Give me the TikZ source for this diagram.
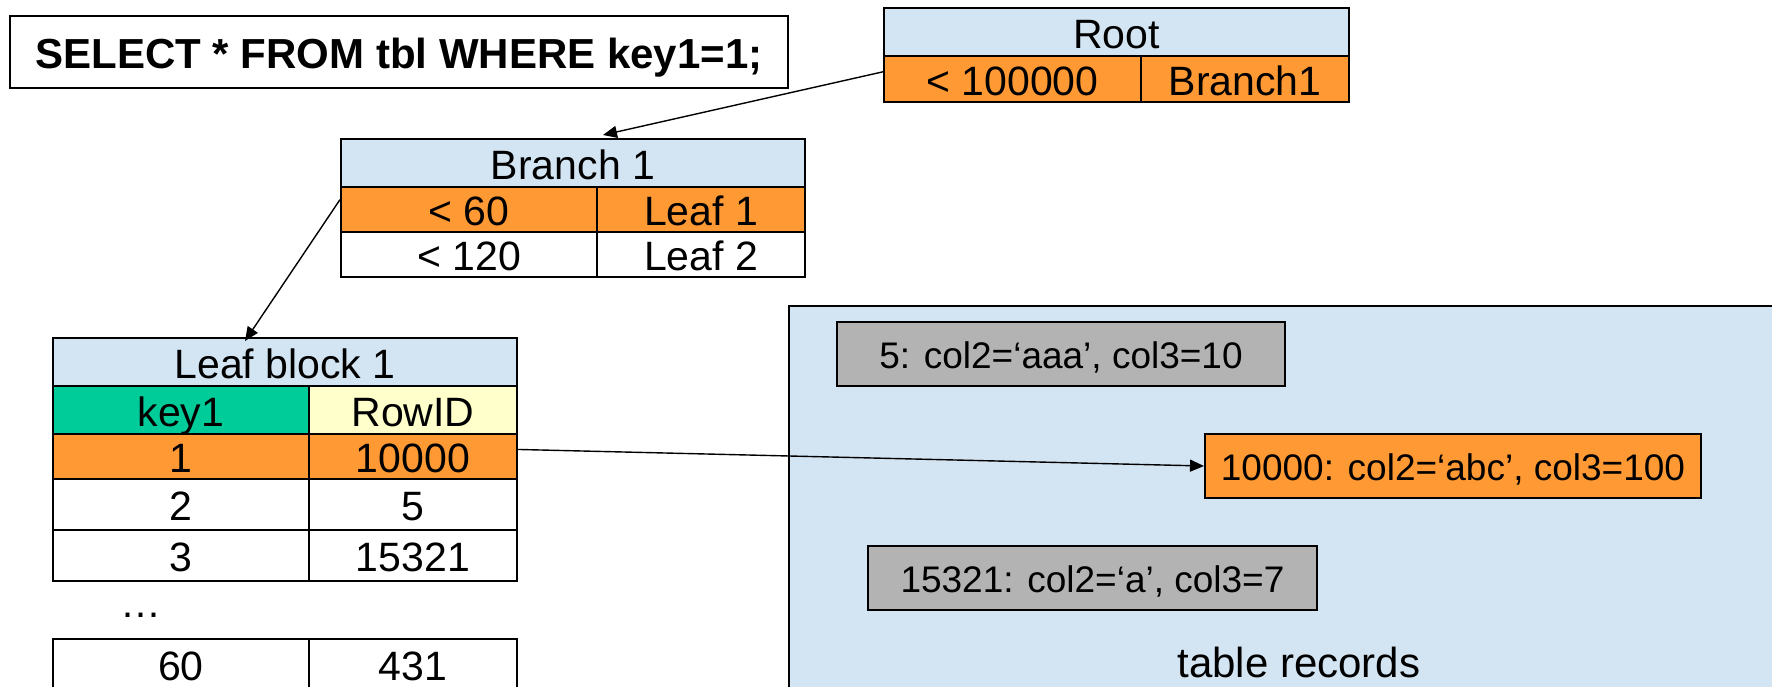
\documentclass[tikz,border=0pt]{standalone}
\usepackage{fontspec}
\setmainfont{Liberation Sans}
\usetikzlibrary{arrows.meta,calc}
\definecolor{hdrblue}{RGB}{211,229,243}
\definecolor{selorange}{RGB}{255,153,51}
\definecolor{keygreen}{RGB}{0,204,153}
\definecolor{rowyellow}{RGB}{255,255,204}
\definecolor{recgray}{RGB}{179,179,179}
\tikzset{
  cellst/.style={draw=black,line width=1pt,inner sep=0pt,text height=16.4pt,text depth=0pt,
    font=\fontsize{20.5}{24}\selectfont},
  recst/.style={draw=black,line width=1pt,inner sep=0pt,fill=recgray,text height=14.8pt,text depth=0pt,
    font=\fontsize{18.5}{22}\selectfont},
  conn/.style={line width=0.7pt,-{Triangle[length=7pt,width=6pt]}},
}
\newcommand\cellnode[7]{\node[cellst,#6,minimum width={(#4-#2)*0.5pt},minimum height={(#5-#3)*0.5pt}] (#1) at ({(#2+#4)/2},{(#3+#5)/2}) {#7};}
\newcommand\recnode[6]{\node[recst,minimum width={(#4-#2)*0.5pt},minimum height={(#5-#3)*0.5pt}] (#1) at ({(#2+#4)/2},{(#3+#5)/2}) {#6};}
\begin{document}
\begin{tikzpicture}[x=0.5pt,y=-0.5pt]
\useasboundingbox (0,0) rectangle (1772,686);
\clip (0,0) rectangle (1772,686);
% SELECT box
\node[draw=black,line width=1pt,fill=white,inner sep=0pt,minimum width=389pt,minimum height=36pt,
  text height=16.8pt,text depth=0pt,font=\fontsize{21}{25}\selectfont\bfseries] (sel) at (399,52) {SELECT * FROM tbl WHERE key1=1;};
% table records area
\node[draw=black,line width=1pt,fill=hdrblue,inner sep=0pt,minimum width=500pt,minimum height=200pt,anchor=north west] (area) at (788,305) {};
\node[inner sep=0pt,text height=16.8pt,text depth=0pt,font=\fontsize{21}{25}\selectfont] (arealbl) at (1299,661) {table records};
\recnode{rec1}{837}{322}{1285}{386}{5: col2=‘aaa’, col3=10}
\node[draw=black,line width=1pt,inner sep=0pt,fill=selorange,text height=14.8pt,text depth=0pt,
  font=\fontsize{18.5}{22}\selectfont,minimum width=248pt,minimum height=32pt] (rec2) at (1453,466) {10000: col2=‘abc’, col3=100};
\recnode{rec3}{868}{546}{1317}{610}{15321: col2=‘a’, col3=7}
% Root
\cellnode{rhead}{884}{8}{1349}{56}{fill=hdrblue}{Root}
\cellnode{r1a}{884}{56}{1141}{102}{fill=selorange}{< 100000}
\cellnode{r1b}{1141}{56}{1349}{102}{fill=selorange}{Branch1}
% Branch 1
\cellnode{bhead}{341}{139}{805}{187}{fill=hdrblue}{Branch 1}
\cellnode{b1a}{341}{187}{597}{232}{fill=selorange}{< 60}
\cellnode{b1b}{597}{187}{805}{232}{fill=selorange}{Leaf 1}
\cellnode{b2a}{341}{232}{597}{277}{fill=white}{< 120}
\cellnode{b2b}{597}{232}{805}{277}{fill=white}{Leaf 2}
% Leaf block 1
\cellnode{lhead}{53}{338}{517}{386}{fill=hdrblue}{Leaf block 1}
\cellnode{lka}{53}{386}{309}{434}{fill=keygreen}{key1}
\cellnode{lkb}{309}{386}{517}{434}{fill=rowyellow}{RowID}
\cellnode{l1a}{53}{434}{309}{479}{fill=selorange}{1}
\cellnode{l1b}{309}{434}{517}{479}{fill=selorange}{10000}
\cellnode{l2a}{53}{479}{309}{530}{fill=white}{2}
\cellnode{l2b}{309}{479}{517}{530}{fill=white}{5}
\cellnode{l3a}{53}{530}{309}{581}{fill=white}{3}
\cellnode{l3b}{309}{530}{517}{581}{fill=white}{15321}
\node[inner sep=0pt,text height=16.4pt,text depth=0pt,font=\fontsize{20.5}{24}\selectfont] (dots) at (141,601) {…};
\cellnode{l60a}{53}{639}{309}{689}{fill=white}{60}
\cellnode{l60b}{309}{639}{517}{689}{fill=white}{431}
% connectors
\draw[conn] ($(r1a.north west)!0.35!(r1a.south west)$) -- ([xshift=15pt,yshift=1.5pt]bhead.north);
\draw[conn] ($(b1a.north west)!0.29!(b1a.south west)$) -- ([xshift=-20pt,yshift=-2pt]lhead.north);
\draw[conn] ($(l1b.north east)!0.35!(l1b.south east)$) -- (rec2.west);
\end{tikzpicture}
\end{document}
